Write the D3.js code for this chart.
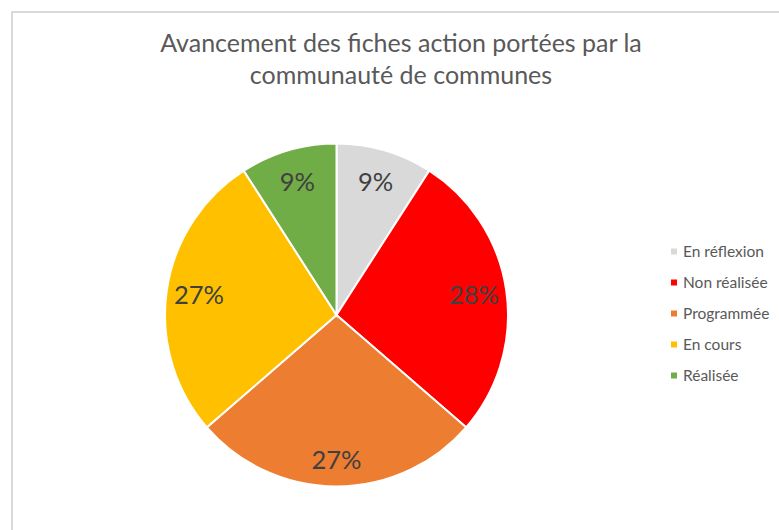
<!DOCTYPE html>
<html>
<head>
<meta charset="utf-8">
<script src="https://cdn.jsdelivr.net/npm/d3@7"></script>
<style>
    body { margin: 0; background: #fff; }
    svg { display: block; font-family: Lato, "Open Sans", sans-serif; }
</style>
</head>
<body>
<div id="chart"></div>
<script>
// Data
// ==================================================================
const categories = ["En réflexion", "Non réalisée", "Programmée", "En cours", "Réalisée"];
const counts = [1, 3, 3, 3, 1];
const colors = ["#d9d9d9", "#ff0000", "#ed7d31", "#ffc000", "#70ad47"];
const titleLines = ["Avancement des fiches action portées par la", "communauté de communes"];

const width = 779,
    height = 530,
    cx = 336.5,
    cy = 315,
    radius = 171.5;

// Percent labels the way Excel rounds them (largest remainder, sums to 100)
function percent_labels(vals) {
    const total = d3.sum(vals);
    const raw = vals.map(v => v / total * 100);
    const floors = raw.map(Math.floor);
    let left = 100 - d3.sum(floors);
    const order = raw.map((r, i) => ({i: i, rem: r - floors[i]}))
        .sort((a, b) => b.rem - a.rem || a.i - b.i);
    for (let k = 0; k < left; k++) floors[order[k].i] += 1;
    return floors.map(p => p + "%");
}

const labels = percent_labels(counts);

// Svg
// ==================================================================
const svg = d3.select("#chart")
    .append("svg")
        .attr("width", width)
        .attr("height", height);

// chart area border (runs off the right and bottom edges)
svg.append("rect")
    .attr("x", 12)
    .attr("y", 12)
    .attr("width", width)
    .attr("height", height)
    .attr("fill", "none")
    .attr("stroke", "#d9d9d9")
    .attr("stroke-width", 2);

// Title
svg.append("text")
    .attr("x", 401)
    .attr("y", 52)
    .attr("text-anchor", "middle")
    .attr("font-size", "25px")
    .attr("fill", "#595959")
    .selectAll("tspan")
    .data(titleLines)
    .enter()
    .append("tspan")
        .attr("x", 401)
        .attr("dy", (d, i) => i === 0 ? 0 : 31.5)
        .text(d => d);

// Pie
// ==================================================================
const pie = d3.pie().sort(null).value(d => d);
const arcs = pie(counts);

const arc = d3.arc().innerRadius(0).outerRadius(radius);

// labels sit near the inside end; the bottom one a bit deeper like Excel does
function label_pos(d) {
    const a = (d.startAngle + d.endAngle) / 2;
    const r = radius * (0.81 + 0.035 * Math.max(0, -Math.cos(a)));
    return [r * Math.sin(a), -r * Math.cos(a)];
}

const g = svg.append("g")
    .attr("transform", "translate(" + cx + "," + cy + ")");

g.selectAll("path.slice")
    .data(arcs)
    .enter()
    .append("path")
        .attr("class", "slice")
        .attr("d", arc)
        .attr("fill", (d, i) => colors[i])
        .attr("stroke", "#fff")
        .attr("stroke-width", 2);

g.selectAll("text.lbl")
    .data(arcs)
    .enter()
    .append("text")
        .attr("class", "lbl")
        .attr("transform", d => "translate(" + label_pos(d) + ")")
        .attr("text-anchor", "middle")
        .attr("dy", "0.36em")
        .attr("font-size", "25.5px")
        .attr("fill", "#404040")
        .text((d, i) => labels[i]);

// Legend
// ==================================================================
const legend = svg.append("g")
    .attr("transform", "translate(671, 251.5)");

const items = legend.selectAll("g.item")
    .data(categories)
    .enter()
    .append("g")
        .attr("class", "item")
        .attr("transform", (d, i) => "translate(0," + i * 31 + ")");

items.append("rect")
    .attr("x", 0)
    .attr("y", -3)
    .attr("width", 6)
    .attr("height", 6)
    .attr("fill", (d, i) => colors[i]);

items.append("text")
    .attr("x", 12)
    .attr("dy", "0.36em")
    .attr("font-size", "15.5px")
    .attr("fill", "#595959")
    .text(d => d);
</script>
</body>
</html>
